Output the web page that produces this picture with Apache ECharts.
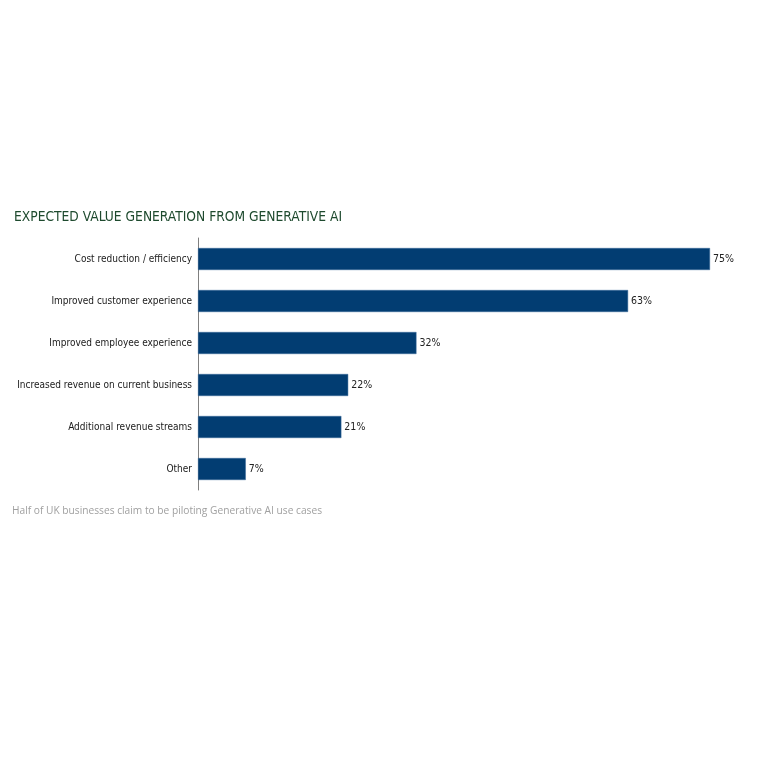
<!DOCTYPE html>
<html><head><meta charset="utf-8">
<script src="https://cdn.jsdelivr.net/npm/echarts@6/dist/echarts.min.js"></script>
<style>html,body{margin:0;padding:0;background:#fff}#c{width:768px;height:768px}</style>
</head><body><div id="c"></div>
<script>
const categories = ["Cost reduction / efficiency","Improved customer experience","Improved employee experience","Increased revenue on current business","Additional revenue streams","Other"];
const values = [75,63,32,22,21,7];
const titleText = "EXPECTED VALUE GENERATION FROM GENERATIVE AI";
const footText = "Half of UK businesses claim to be piloting Generative AI use cases";
const chart = echarts.init(document.getElementById('c'));
chart.setOption({
  animation:false,
  title:[
    {text:titleText,left:9,top:205,textStyle:{fontFamily:'DejaVu Sans Condensed',fontSize:13.7,fontWeight:'normal',color:'#1e4a2e'}},
    {text:footText,left:7,top:501,textStyle:{fontFamily:'Open Sans',fontSize:10.2,fontWeight:'normal',color:'#a0a0a0'}}
  ],
  grid:{left:198,top:238,width:512,height:252,containLabel:false},
  xAxis:{type:'value',min:0,max:75,show:false},
  yAxis:{type:'category',data:categories,inverse:true,
    axisLine:{show:true,lineStyle:{color:'#7f7f7f',width:1}},
    axisTick:{show:false},
    axisLabel:{fontFamily:'DejaVu Sans Condensed',fontSize:10,color:'#1a1a1a',margin:6}},
  series:[{type:'bar',data:values,barWidth:22,
    itemStyle:{color:'#023d72',borderColor:'#3a6a9a',borderWidth:0.5},
    label:{show:true,position:'right',distance:3,formatter:'{c}%',fontFamily:'DejaVu Sans Condensed',fontSize:10.5,color:'#222'}}]
});
</script></body></html>
